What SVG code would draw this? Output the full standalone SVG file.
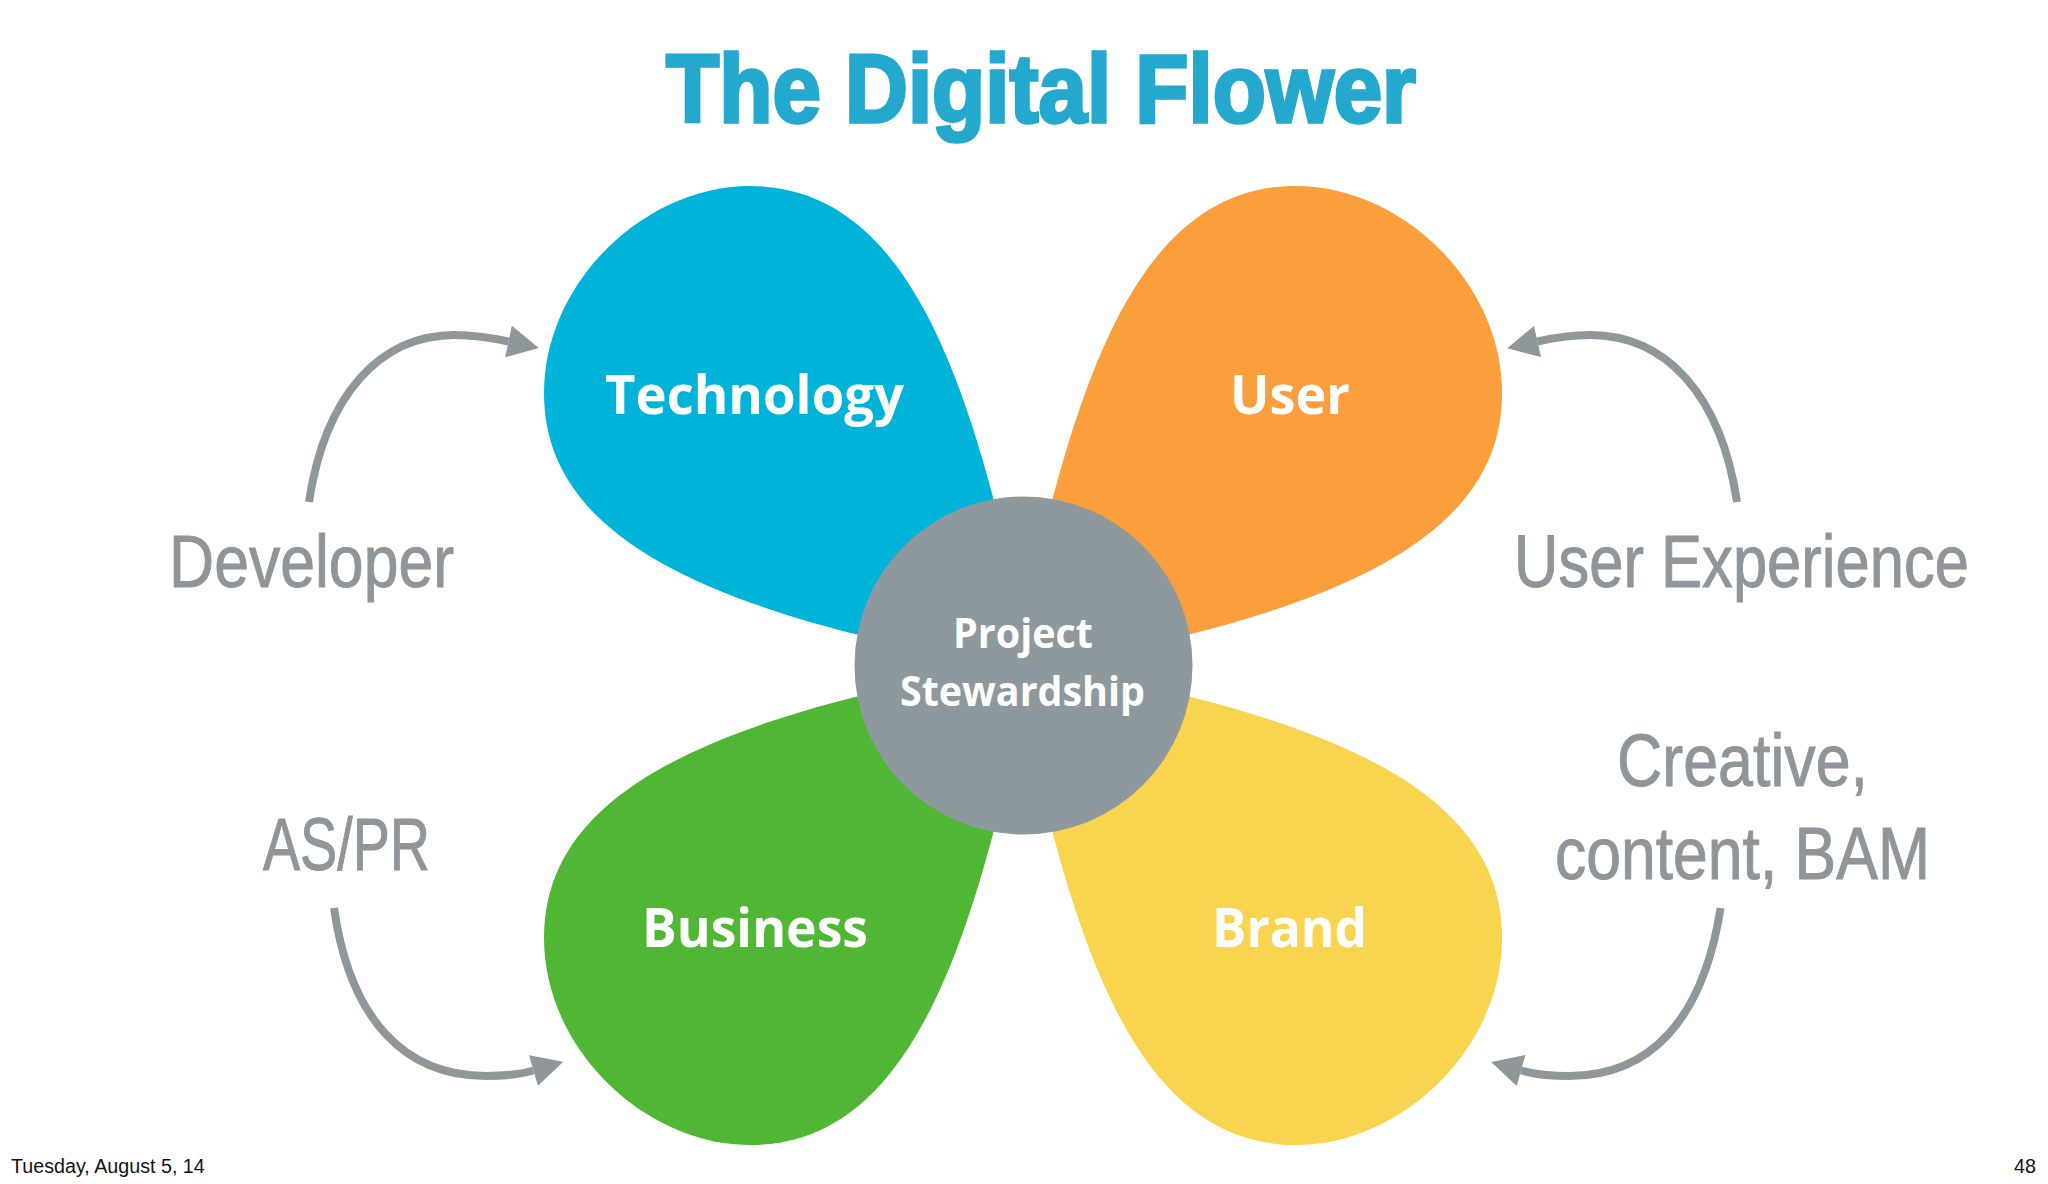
<svg xmlns="http://www.w3.org/2000/svg" xmlns:xlink="http://www.w3.org/1999/xlink" width="2048" height="1184" viewBox="0 0 2048 1184">
<style>
.title{font-family:"Liberation Sans",Arial,sans-serif;font-weight:700;font-size:97px;fill:#24A8CE;stroke:#24A8CE;stroke-width:3.5px}
.petal{font-family:"Open Sans","Liberation Sans",sans-serif;font-weight:700;font-size:54px;fill:#fff}
.center{font-family:"Open Sans","Liberation Sans",sans-serif;font-weight:700;font-size:42px;fill:#fff}
.role{font-family:"Liberation Sans Narrow","Liberation Sans",sans-serif;font-size:75px;fill:#8F9599;stroke:#8F9599;stroke-width:1px}
.foot{font-family:"Liberation Sans",Arial,sans-serif;font-size:19.7px;fill:#111}
.arrow{fill:none;stroke:#8F979B;stroke-width:8;marker-end:url(#head)}
</style>
<defs>
<marker id="head" markerUnits="userSpaceOnUse" markerWidth="36" markerHeight="36" refX="0" refY="18" orient="auto" viewBox="0 0 36 36" overflow="visible"><path d="M0,2 L31,18 L0,34 Z" fill="#8F979B"/></marker>
<path id="petal" d="M1030,665 L993,497 C945,317 880,186 750,186 C645,186 544,282 544,393 C544,510 650,582 855,634 Z"/>
</defs>
<rect width="2048" height="1184" fill="#fff"/>
<g id="connectors">
<path class="arrow" d="M309,502 C325,395 380,335 455,335 C475,335 492,338 508.5,341.5"/>
<path class="arrow" d="M1737,502 C1721,395 1666,335 1590,335 C1570,335 1553,338 1537.5,341.5"/>
<path class="arrow" d="M334,908 C350,1020 405,1076 486,1076 C503,1076 518,1075 533.5,1070.5"/>
<path class="arrow" d="M1720.6,908 C1703,1020 1650,1076 1569,1076 C1552,1076 1537,1075 1521,1070.5"/>
</g>
<g id="title"><text class="title" x="666" y="122" textLength="750" lengthAdjust="spacingAndGlyphs">The Digital Flower</text></g>
<g id="technology"><use xlink:href="#petal" fill="#00B3D9"/><text class="petal" x="605" y="414" textLength="299" lengthAdjust="spacingAndGlyphs">Technology</text></g>
<g id="user"><use xlink:href="#petal" fill="#FB9E3C" transform="matrix(-1 0 0 1 2046 0)"/><text class="petal" x="1230" y="414" textLength="120" lengthAdjust="spacingAndGlyphs">User</text></g>
<g id="business"><use xlink:href="#petal" fill="#4FB733" transform="matrix(1 0 0 -1 0 1331)"/><text class="petal" x="642" y="947" textLength="226" lengthAdjust="spacingAndGlyphs">Business</text></g>
<g id="brand"><use xlink:href="#petal" fill="#F9D44E" transform="matrix(-1 0 0 -1 2046 1331)"/><text class="petal" x="1212" y="947" textLength="155" lengthAdjust="spacingAndGlyphs">Brand</text></g>
<g id="stewardship"><circle cx="1023.5" cy="665.5" r="169" fill="#8D999D"/><text class="center" x="953" y="648" textLength="140" lengthAdjust="spacingAndGlyphs">Project</text><text class="center" x="900" y="706" textLength="245" lengthAdjust="spacingAndGlyphs">Stewardship</text></g>
<g id="developer"><text class="role" x="169" y="587" textLength="285" lengthAdjust="spacingAndGlyphs">Developer</text></g>
<g id="user-experience"><text class="role" x="1514" y="587" textLength="455" lengthAdjust="spacingAndGlyphs">User Experience</text></g>
<g id="as-pr"><text class="role" x="263" y="870" textLength="167" lengthAdjust="spacingAndGlyphs">AS/PR</text></g>
<g id="creative"><text class="role" x="1617" y="786" textLength="251" lengthAdjust="spacingAndGlyphs">Creative,</text><text class="role" x="1555" y="879" textLength="375" lengthAdjust="spacingAndGlyphs">content, BAM</text></g>
<g id="footer"><text class="foot" x="11" y="1173">Tuesday, August 5, 14</text><text class="foot" x="2014" y="1173">48</text></g>
</svg>
